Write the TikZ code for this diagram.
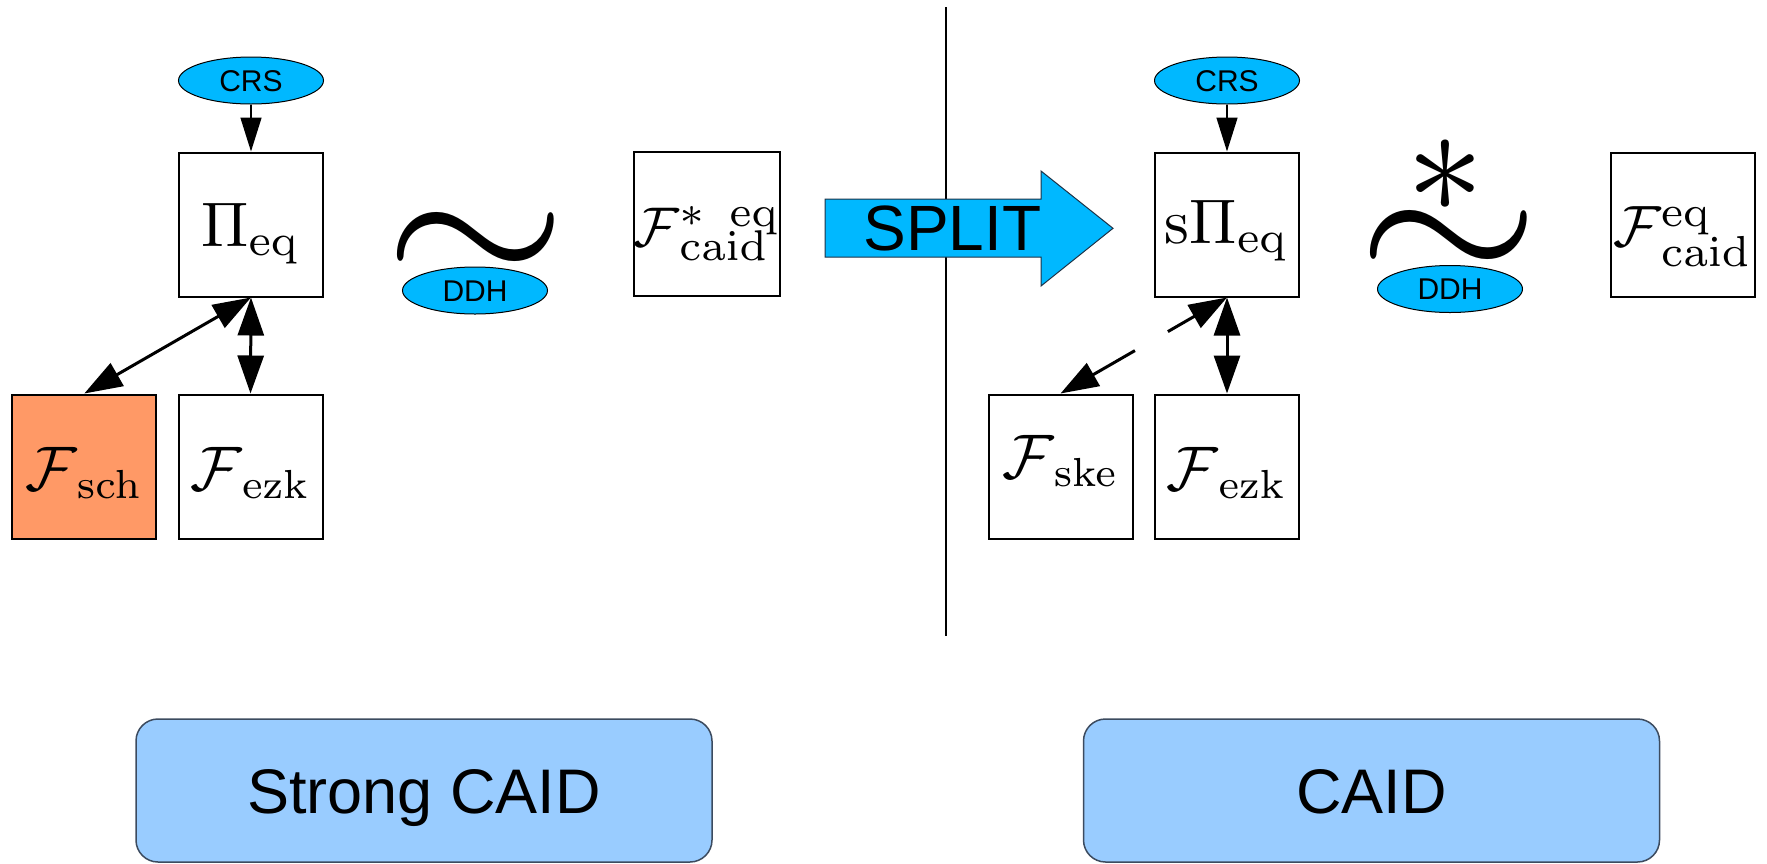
\RequirePackage{fix-cm}
\documentclass[tikz,border=0pt]{standalone}
\usepackage[no-math]{fontspec}
\usepackage{graphicx}
\newfontfamily\arialfont{Liberation Sans}
\usetikzlibrary{arrows.meta,shapes.geometric}

% formulas are set at 10pt and enlarged as a whole
\newcommand\formula[2][6.3]{\scalebox{#1}{$#2$}}
% a calligraphic F enlarged on its own, relative to its indices
\newcommand\calF[1]{\mbox{\scalebox{#1}{$\mathcal{F}$}}}
% an index moved vertically without disturbing the other one
\newcommand\shifted[2]{\smash{\raisebox{#1}{$\scriptstyle #2$}}}

\definecolor{skyblue}{RGB}{0,184,255}
\definecolor{salmon}{RGB}{255,153,102}
\definecolor{paleblue}{RGB}{153,204,255}
\definecolor{boxedge}{RGB}{60,75,95}
\definecolor{arrowedge}{RGB}{30,50,70}

\tikzset{
  mathbox/.style={draw, line width=2pt, minimum width=144pt, minimum height=144pt,
    inner sep=0pt, font=\normalsize},
  baseat/.style={text height=#1, text depth=0pt},
  hyp/.style={ellipse, draw, line width=1pt, fill=skyblue, minimum width=145pt,
    minimum height=47pt, inner sep=0pt, text height=21.5pt, text depth=0pt,
    font=\arialfont\fontsize{30}{30}\selectfont},
  link/.style={line width=3pt,
    {Triangle[length=38pt,width=26pt]}-{Triangle[length=38pt,width=26pt]}},
  feed/.style={line width=1.5pt, -{Triangle[length=34pt,width=21pt]}},
  notionbox/.style={draw=boxedge, line width=1.5pt, fill=paleblue, rounded corners=22pt,
    minimum width=576pt, minimum height=143pt, inner sep=0pt, text height=45pt,
    text depth=0pt, font=\arialfont\fontsize{63}{63}\selectfont},
  bigsym/.style={inner sep=0pt, anchor=base, font=\normalsize},
}

\begin{document}
\begin{tikzpicture}[x=1pt, y=-1pt]
  \useasboundingbox (0,0) rectangle (1767,863);

  % divider between the two constructions
  \coordinate (divtop) at (946,7);
  \coordinate (divbot) at (946,636);
  \draw[line width=2pt] (divtop) -- (divbot);

  % ---------- strong CAID side ----------
  \node[hyp] (crsL) at (251,80.5) {CRS};
  \node[mathbox, baseat=44pt] (pi) at (251,224.5) {\formula{\Pi_{\mathrm{eq}}}};
  \node[mathbox, baseat=47pt, fill=salmon] (fsch) at (84.3,466.5)
    {\formula[5.8]{\calF{1.086}_{\mathrm{sch}}}};
  \node[mathbox, baseat=47pt] (fezkL) at (250.5,466.5)
    {\formula[5.8]{\calF{1.086}_{\mathrm{ezk}}}};
  \node[bigsym] (simL) at (475.5,289.5) {\scalebox{23.5}[21]{$\sim$}};
  \node[hyp] (ddhL) at (475,290.5) {DDH};
  \node[mathbox, baseat=44pt] (fstar) at (707,224)
    {\formula[6.15]{\calF{0.91}^{\shifted{-0.63pt}{\ast\mskip9mu\mathrm{eq}}}_{\shifted{0.17pt}{\mathrm{caid}}}}};

  \draw[feed] (crsL.south) -- (pi.north);
  \draw[link] (pi.south) -- (fsch.north);
  \draw[link] (pi.south) -- (fezkL.north);

  % ---------- SPLIT arrow ----------
  \fill[skyblue, draw=arrowedge, line width=1pt]
    (825,199) -- (1041,199) -- (1041,171) -- (1113,228.3) -- (1041,286)
    -- (1041,257) -- (825,257) -- cycle;
  \node[inner sep=0pt, text height=46pt, text depth=0pt,
    font=\arialfont\fontsize{64}{64}\selectfont] (split) at (952.5,227.5) {SPLIT};

  % ---------- CAID side ----------
  \node[hyp] (crsR) at (1227,80.5) {CRS};
  \node[mathbox, baseat=37pt] (spi) at (1227,224.5) {\formula{\mathrm{s}\Pi_{\mathrm{eq}}}};
  \node[mathbox, baseat=23pt] (fske) at (1060.5,466.5)
    {\formula[5.8]{\calF{1.086}_{\mathrm{ske}}}};
  \node[mathbox, baseat=47pt] (fezkR) at (1227,466.5)
    {\formula[5.8]{\calF{1.086}_{\mathrm{ezk}}}};
  \node[bigsym] (astR) at (1445,212.5) {\scalebox{15.6}{$\ast$}};
  \node[bigsym] (simR) at (1448.5,287.5) {\scalebox{23.5}[21]{$\sim$}};
  \node[hyp] (ddhR) at (1450,289) {DDH};
  \node[mathbox, baseat=43pt] (feq) at (1683,224.5)
    {\formula[6.2]{\calF{0.94}^{\shifted{-0.73pt}{\mathrm{eq}}}_{\shifted{-0.83pt}{\mathrm{caid}}}}};

  \draw[feed] (crsR.south) -- (spi.north);
  \draw[link, dash pattern=on 31pt off 38pt on 120pt off 1pt] (spi.south) -- (fske.north);
  \draw[link] (spi.south) -- (fezkR.north);

  % ---------- notion labels ----------
  \node[notionbox] (strong) at (424,790.5) {Strong CAID};
  \node[notionbox] (caid) at (1371.5,790.5) {CAID};
\end{tikzpicture}
\end{document}
